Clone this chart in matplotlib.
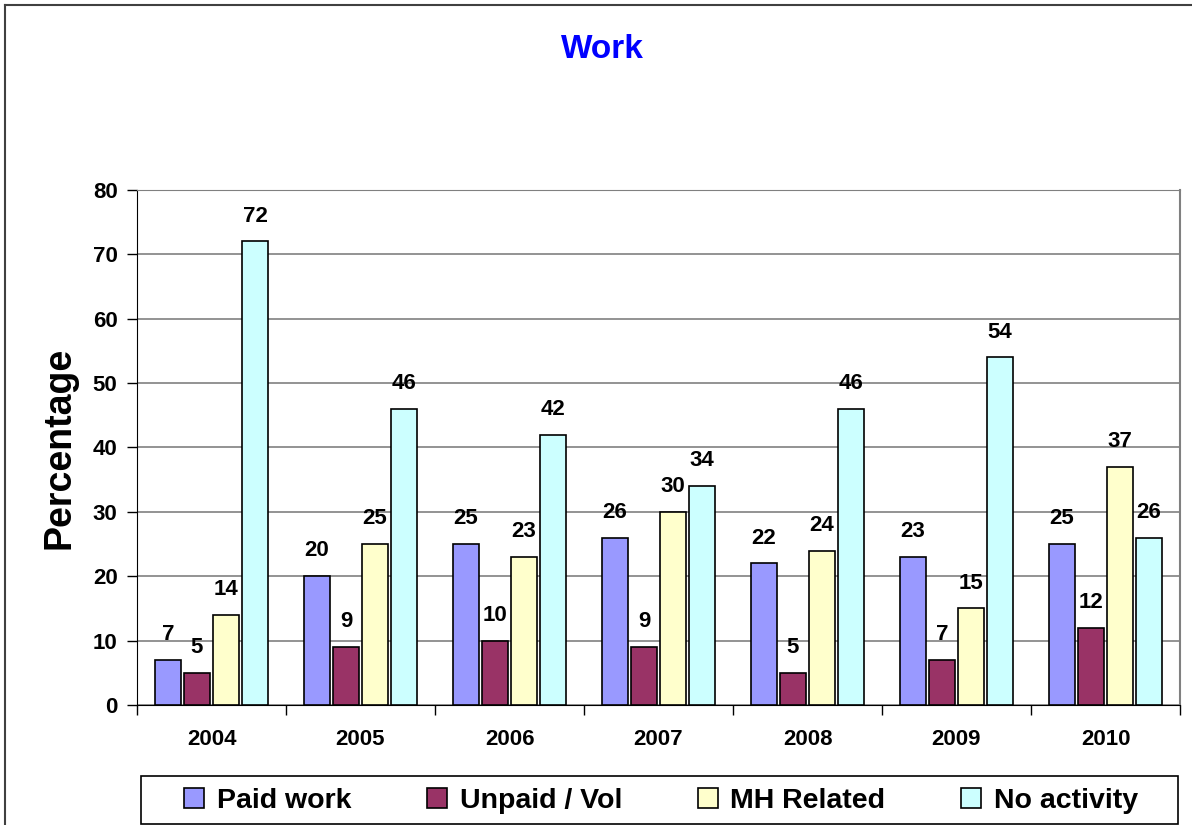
import numpy as np
import matplotlib
matplotlib.use("Agg")
import matplotlib.pyplot as plt
from matplotlib.lines import Line2D
from matplotlib.patches import Rectangle

years = ["2004", "2005", "2006", "2007", "2008", "2009", "2010"]
series_names = ["Paid work", "Unpaid / Vol", "MH Related", "No activity"]
paid_work = [7, 20, 25, 26, 22, 23, 25]
unpaid_vol = [5, 9, 10, 9, 5, 7, 12]
mh_related = [14, 25, 23, 30, 24, 15, 37]
no_activity = [72, 46, 42, 34, 46, 54, 26]
colors = ["#9999FF", "#993366", "#FFFFCC", "#CCFFFF"]

plt.rcParams['font.family'] = ['Liberation Sans', 'DejaVu Sans']
plt.rcParams['font.weight'] = 'bold'

W, H = 1192, 825
fig = plt.figure(figsize=(W / 100, H / 100), dpi=100)
ax = fig.add_axes([137 / W, 1 - 705 / H, (1180 - 137) / W, (705 - 190) / H])

x = np.arange(len(years))
width = 0.17
step = 0.195
handles = []
for i, (name, vals) in enumerate(zip(series_names, [paid_work, unpaid_vol, mh_related, no_activity])):
    pos = x + (i - 1.5) * step
    bars = ax.bar(pos, vals, width, color=colors[i], edgecolor="black", linewidth=1.2,
                  label=name, zorder=3)
    handles.append(bars)
    for p, v in zip(pos, vals):
        ax.text(p, v + 2.3, str(v), ha="center", va="bottom", fontsize=16, fontweight="bold")

ax.set_xlim(-0.5, len(years) - 0.5)
ax.set_ylim(0, 80)
ax.set_yticks(range(0, 81, 10))
ax.yaxis.grid(True, color="#808080", linewidth=1.2, zorder=0)
ax.set_axisbelow(True)

# year labels centred, tick marks between groups
ax.set_xticks(x)
ax.set_xticklabels(years, fontsize=16, fontweight="bold")
ax.tick_params(axis="x", length=0, pad=17)
ax.set_xticks(np.arange(-0.5, len(years)), minor=True)
ax.tick_params(axis="x", which="minor", length=7, width=1, direction="out")
ax.tick_params(axis="y", length=7, width=1, direction="out", labelsize=16, pad=7)
for lab in ax.get_yticklabels():
    lab.set_fontweight("bold")

ax.spines["top"].set_color("#808080")
ax.spines["right"].set_color("#808080")
ax.spines["right"].set_linewidth(1.5)
ax.spines["left"].set_color("black")
ax.spines["bottom"].set_color("black")

ax.set_ylabel("Percentage", fontsize=27, fontweight="bold", labelpad=11)

fig.text(602 / W, 1 - 50 / H, "Work", color="#0000FF", fontsize=24,
         fontweight="bold", ha="center", va="center")

# legend box and entries
fig.add_artist(Rectangle((141 / W, 1 - 824 / H), (1178 - 141) / W, 48 / H,
                         transform=fig.transFigure, fill=False, edgecolor="black", linewidth=1.2))
leg = fig.legend(handles=handles, labels=series_names, loc="center",
                 bbox_to_anchor=(661 / W, 1 - 801 / H), ncol=4, frameon=False,
                 handlelength=0.7, handleheight=0.7, handletextpad=0.45,
                 columnspacing=2.65, borderaxespad=0, prop={"weight": "bold", "size": 20.5})

# outer chart border (left and top edges visible)
fig.add_artist(Line2D([5 / W, 5 / W], [0, 1 - 5 / H], transform=fig.transFigure,
                      color="#404040", linewidth=1.5))
fig.add_artist(Line2D([5 / W, 1], [1 - 5 / H, 1 - 5 / H], transform=fig.transFigure,
                      color="#404040", linewidth=1.5))

fig.savefig("out.png", dpi=100)
